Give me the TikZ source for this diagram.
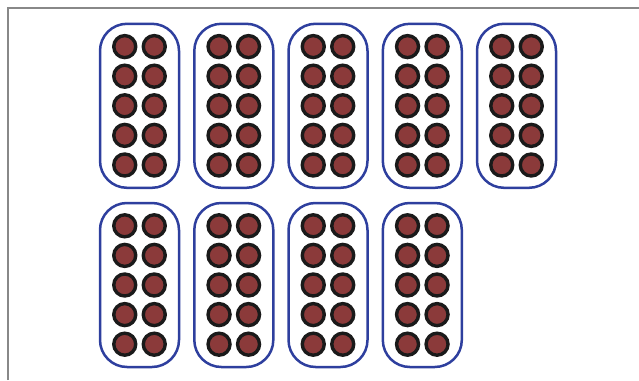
\documentclass[tikz,border=0pt]{standalone}
\usetikzlibrary{positioning}
\definecolor{trayBlue}{HTML}{2E3F9E}
\definecolor{beadRed}{HTML}{8B3A3A}
\definecolor{beadInk}{HTML}{1A1A1A}
\definecolor{frameGray}{HTML}{888888}

\begin{document}
\begin{tikzpicture}[x=1pt, y=-1pt,
    bead/.style={circle, draw=beadInk, line width=3.4pt, fill=beadRed, minimum size=22pt, inner sep=0pt},
    tray/.style={draw=trayBlue, line width=2.5pt, rounded corners=27pt, minimum width=79pt, minimum height=164pt, inner sep=0pt}]
    \useasboundingbox (0,0) rectangle (639,380);
    % frame
    \coordinate (frameBL) at (8,380);
    \coordinate (frameTL) at (8,8);
    \coordinate (frameTR) at (639,8);
    \draw[frameGray, line width=2.2pt] (frameBL) -- (frameTL) -- (frameTR);
    % trays of ten
    \foreach \g/\cx/\cy in {1/139.5/105.8, 2/233.8/105.8, 3/328/105.8, 4/422.3/105.8, 5/516.5/105.8,
                            6/139.5/285, 7/233.8/285, 8/328/285, 9/422.3/285} {
        \node[tray] (tray\g) at (\cx,\cy) {};
        \foreach \r in {1,...,5}
            \foreach \c in {1,2}
                \node[bead] (bead\g-\r-\c) at ([xshift={(\c-1.5)*29.5pt}, yshift={(3-\r)*29.6pt}]tray\g.center) {};
    }
\end{tikzpicture}
\end{document}
